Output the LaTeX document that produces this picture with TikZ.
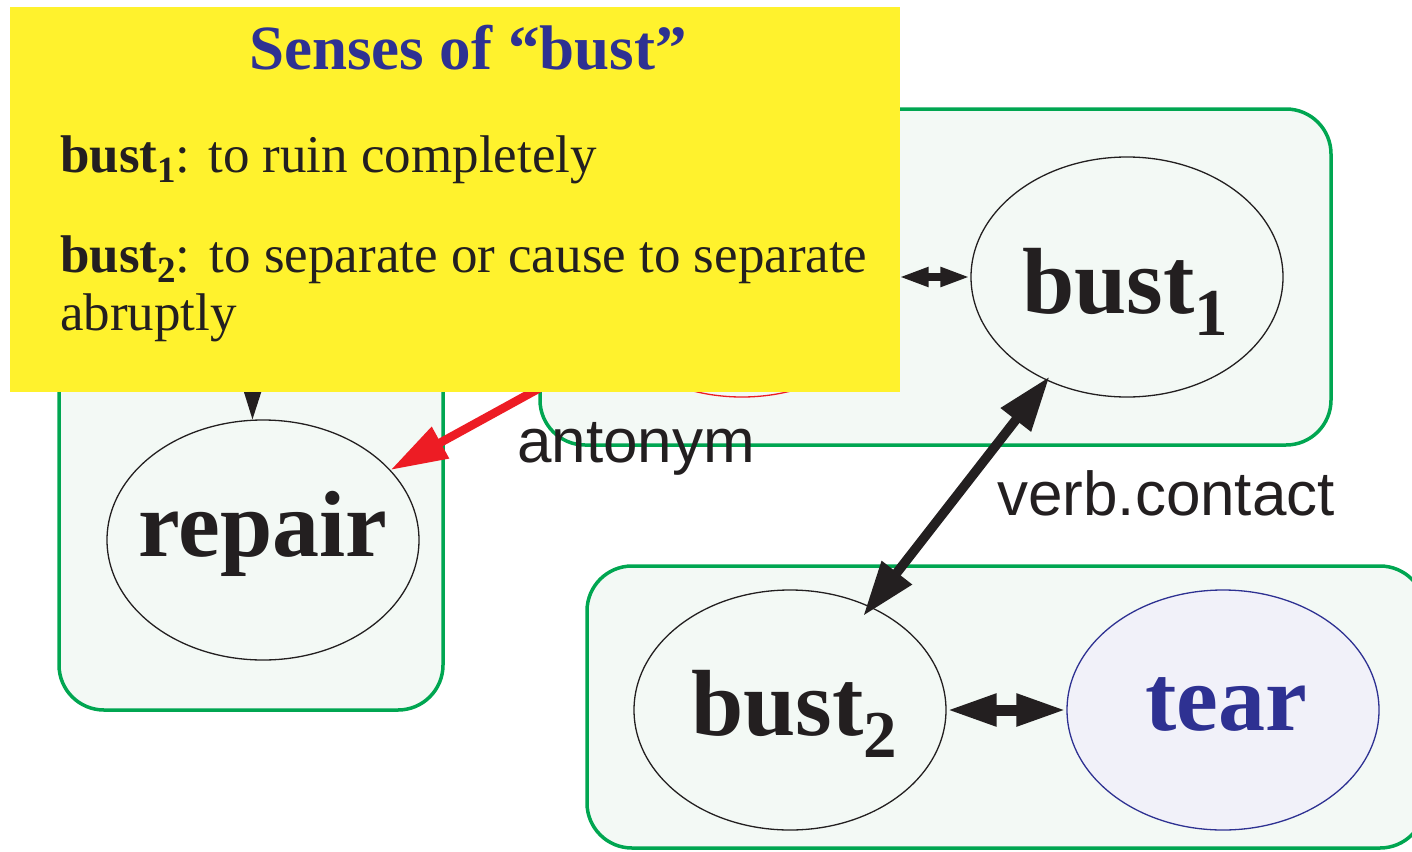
\documentclass[tikz,border=0pt]{standalone}
\usepackage{fontspec}
\setmainfont{Liberation Serif}
\setsansfont{Liberation Sans}
\usetikzlibrary{arrows.meta,shapes.geometric}

\definecolor{hlyellow}{HTML}{FFF22D}
\definecolor{titleblue}{HTML}{2E3192}
\definecolor{inkblack}{HTML}{231F20}
\definecolor{framegreen}{HTML}{00A651}
\definecolor{panelfill}{HTML}{F3F9F5}
\definecolor{tearfill}{HTML}{F1F1F9}
\definecolor{antred}{HTML}{ED1C24}

% lowered sense indices
\newcommand\bigsub[1]{\raisebox{-22pt}{\fontsize{67}{67}\selectfont\bfseries #1}}
\newcommand\smallsub[1]{\raisebox{-10pt}{\fontsize{37}{37}\selectfont\bfseries #1}}

\tikzset{
  panel/.style={draw=framegreen, line width=3.5pt, fill=panelfill, rounded corners=45pt},
  sense/.style={ellipse, draw=inkblack, line width=1.3pt, fill=panelfill,
    minimum width=312pt, minimum height=240pt, inner sep=0pt},
  sensetext/.style={anchor=base, inner sep=0pt, text=inkblack,
    font=\fontsize{94}{94}\selectfont\bfseries},
  relabel/.style={anchor=base west, inner sep=0pt, text=inkblack,
    font=\sffamily\fontsize{62}{62}\selectfont},
  bodyline/.style={anchor=base west, inner sep=0pt, text=inkblack,
    font=\fontsize{53}{53}\selectfont},
  thinlink/.style={draw=inkblack, line width=8pt,
    {Triangle[length=30pt,width=18pt]}-{Triangle[length=30pt,width=18pt]}},
  widelink/.style={draw=inkblack, line width=11pt,
    {Triangle[length=50pt,width=30pt]}-{Triangle[length=50pt,width=30pt]}},
  slantlink/.style={draw=inkblack, line width=9.5pt,
    {Triangle[length=55pt,width=36pt]}-{Triangle[length=55pt,width=36pt]}},
  redlink/.style={draw=antred, line width=8.5pt, -{Triangle[length=57pt,width=34pt]}},
  downlink/.style={draw=inkblack, line width=3pt, -{Triangle[length=30pt,width=18pt]}},
}

\begin{document}
\begin{tikzpicture}[x=1pt,y=-1pt]
\useasboundingbox (0,0) rectangle (1412,851);
\clip (0,0) rectangle (1412,851);

% grouping panels
\draw[panel] (59,200) rectangle (443,710);
\draw[panel] (540,109) rectangle (1331,445);
\draw[panel] (587,566) rectangle (1425,848);

% word senses
\node[sense, draw=antred] (redsense) at (742,277) {};
\node[sense] (bustone) at (1127,277) {};
\node[sense] (repair) at (263,540) {};
\node[sense] (busttwo) at (790,710) {};
\node[sense, draw=titleblue, fill=tearfill] (tear) at (1223,710) {};

\node[sensetext] (bustone-t) at (1125,313) {bust\bigsub{1}};
\node[sensetext] (repair-t) at (263,556) {repair};
\node[sensetext] (busttwo-t) at (794,735) {bust\bigsub{2}};
\node[sensetext, text=titleblue] (tear-t) at (1226,730) {tear};

% relations
\coordinate (above) at (253,300);
\draw[downlink] (above) -- (repair.95);
\draw[thinlink] (redsense) -- (bustone);
\draw[redlink] (redsense) -- (repair);
\draw[slantlink, shorten <=-5pt, shorten >=-12pt] (bustone) -- (busttwo);
\draw[widelink] (busttwo) -- (tear);

\node[relabel] (antlabel) at (517,462) {antonym};
\node[relabel] (verblabel) at (997,515) {verb.contact};

% gloss panel
\fill[hlyellow] (10,7) rectangle (900,392);
\node[anchor=base, inner sep=0pt, text=titleblue,
  font=\fontsize{63}{63}\selectfont\bfseries] (title) at (468,70) {Senses of “bust”};
\node[bodyline] (glossone) at (60,172) {\textbf{bust}\smallsub{1}: to ruin completely};
\node[bodyline] (glosstwo) at (60,272) {\textbf{bust}\smallsub{2}:\hspace{0.36em}to separate or cause to separate};
\node[bodyline] (glossthree) at (60,330) {abruptly};
\end{tikzpicture}
\end{document}
